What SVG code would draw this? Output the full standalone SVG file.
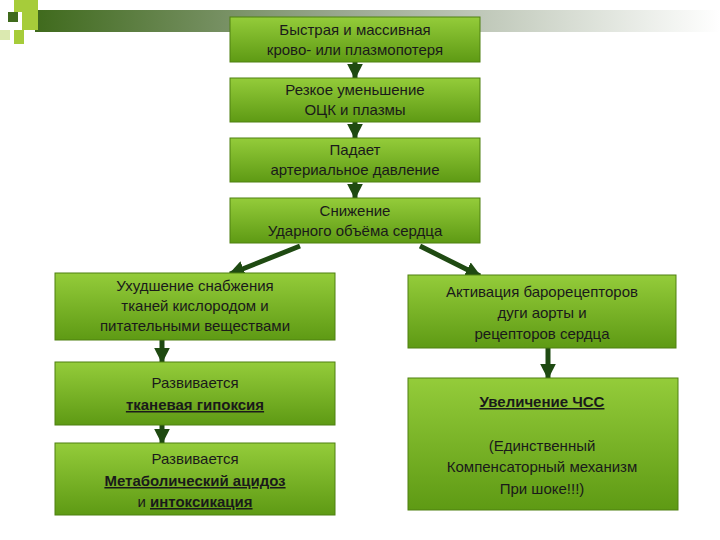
<svg xmlns="http://www.w3.org/2000/svg" width="720" height="540" viewBox="0 0 720 540">
<defs>
<linearGradient id="bar" x1="0" x2="1" y1="0" y2="0"><stop offset="0" stop-color="#3f6a1c"/><stop offset="0.45" stop-color="#9aa890"/><stop offset="1" stop-color="#ffffff"/></linearGradient>
<linearGradient id="box" x1="0" x2="0" y1="0" y2="1"><stop offset="0" stop-color="#94cc3a"/><stop offset="1" stop-color="#5e9a14"/></linearGradient>
<marker id="ah" viewBox="0 0 10 10" refX="9" refY="5" markerWidth="3.2" markerHeight="3.2" orient="auto" markerUnits="strokeWidth"><path d="M0,0L10,5L0,10z" fill="#1f4a12"/></marker>
</defs>
<style>
.b{fill:url(#box);stroke:#4f8010;stroke-width:1}
text{font-family:"Liberation Sans",Arial,sans-serif;font-size:15px;fill:#1a1a1a;text-anchor:middle}
.u{text-decoration:underline;font-weight:bold}
.c{stroke:#1f4a12;stroke-width:5;fill:none;marker-end:url(#ah)}
</style>
<rect x="0" y="0" width="720" height="540" fill="#fff"/>
<g id="deco">
<rect x="35" y="10" width="685" height="22" fill="url(#bar)"/>
<rect x="14" y="0" width="24" height="12" fill="#a6cc3a"/>
<rect x="8" y="12" width="10" height="10" fill="#3f6a1c"/>
<rect x="22" y="12" width="16" height="18" fill="#a6cc3a"/>
<rect x="14" y="30" width="10" height="14" fill="#a6cc3a"/>
<rect x="0" y="30" width="10" height="10" fill="#dbe9b0"/>
</g>
<g id="connectors">
<line class="c" x1="355" y1="62" x2="355" y2="78"/>
<line class="c" x1="355" y1="122" x2="355" y2="138"/>
<line class="c" x1="355" y1="182" x2="355" y2="198"/>
<line class="c" x1="300" y1="246" x2="230" y2="274"/>
<line class="c" x1="420" y1="246" x2="480" y2="276"/>
<line class="c" x1="162" y1="340" x2="162" y2="362"/>
<line class="c" x1="162" y1="425" x2="162" y2="443"/>
<line class="c" x1="548" y1="348" x2="548" y2="378"/>
</g>
<g id="n1"><rect class="b" x="230" y="17" width="250" height="45"/><text x="355" y="35">Быстрая и массивная</text><text x="355" y="55">крово- или плазмопотеря</text></g>
<g id="n2"><rect class="b" x="230" y="78" width="250" height="44"/><text x="355" y="95">Резкое уменьшение</text><text x="355" y="115">ОЦК и плазмы</text></g>
<g id="n3"><rect class="b" x="230" y="138" width="250" height="44"/><text x="355" y="155">Падает</text><text x="355" y="175">артериальное давление</text></g>
<g id="n4"><rect class="b" x="230" y="198" width="250" height="45"/><text x="355" y="216">Снижение</text><text x="355" y="236">Ударного объёма сердца</text></g>
<g id="l1"><rect class="b" x="55" y="273" width="280" height="67"/><text x="195" y="291">Ухудшение снабжения</text><text x="195" y="311">тканей кислородом и</text><text x="195" y="331">питательными веществами</text></g>
<g id="l2"><rect class="b" x="55" y="362" width="280" height="63"/><text x="195" y="388">Развивается</text><text x="195" y="410" class="u">тканевая гипоксия</text></g>
<g id="l3"><rect class="b" x="55" y="443" width="280" height="72"/><text x="195" y="464">Развивается</text><text x="195" y="486" class="u">Метаболический ацидоз</text><text x="195" y="507">и <tspan class="u">интоксикация</tspan></text></g>
<g id="r1"><rect class="b" x="408" y="275" width="268" height="73"/><text x="542" y="297">Активация барорецепторов</text><text x="542" y="318">дуги аорты и</text><text x="542" y="339">рецепторов сердца</text></g>
<g id="r2"><rect class="b" x="408" y="378" width="270" height="132"/><text x="542" y="407" class="u">Увеличение ЧСС</text><text x="542" y="451">(Единственный</text><text x="542" y="472">Компенсаторный механизм</text><text x="542" y="494">При шоке!!!)</text></g>
</svg>
